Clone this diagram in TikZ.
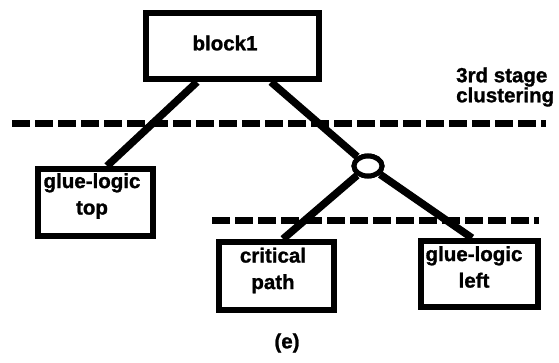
\documentclass[tikz,border=0pt]{standalone}
\usepackage{fontspec}
\setmainfont{Liberation Sans}[BoldFeatures={FakeBold=1.2}]
\usetikzlibrary{shapes.geometric}
\begin{document}
\begin{tikzpicture}[x=1pt,y=-1pt,
  box/.style={draw, line width=6pt, fill=white, rectangle, inner sep=0pt},
  junction/.style={draw, line width=5pt, fill=white, ellipse, inner sep=0pt,
    minimum width=28pt, minimum height=20pt},
  caption/.style={inner sep=0pt, align=center,
    font=\bfseries\fontsize{20.5}{26.5}\selectfont},
  link/.style={line width=7.5pt},
  cut/.style={line width=7pt, dash pattern=on 18pt off 5pt}]
\useasboundingbox (0,0) rectangle (559,362);

% clustering boundaries
\coordinate (upA) at (12,123);
\coordinate (upB) at (546,123);
\coordinate (loA) at (212,220);
\coordinate (loB) at (539,220);
\draw[cut] (upA) -- (upB);
\draw[cut] (loA) -- (loB);

% blocks
\node[box, minimum width=173pt, minimum height=66pt] (b1) at (232.5,46) {};
\node[box, minimum width=115pt, minimum height=67pt] (gt) at (95.5,202.5) {};
\node[box, minimum width=115pt, minimum height=68pt] (cp) at (276.5,276) {};
\node[box, minimum width=117pt, minimum height=66pt] (gl) at (479.5,274) {};
\node[junction] (j) at (368,166) {};

% tree edges
\draw[link] ([xshift=-35.5pt]b1.south) -- ([xshift=11.5pt]gt.north);
\draw[link] ([xshift=38.5pt]b1.south) -- (j);
\draw[link] (j) -- ([xshift=6.5pt]cp.north);
\draw[link] (j) -- ([xshift=-7.5pt]gl.north);

% redraw blocks over edge ends
\node[box, minimum width=173pt, minimum height=66pt] at (b1) {};
\node[box, minimum width=115pt, minimum height=67pt] at (gt) {};
\node[box, minimum width=115pt, minimum height=68pt] at (cp) {};
\node[box, minimum width=117pt, minimum height=66pt] at (gl) {};
\node[junction] at (j) {};

% labels
\node[caption] (b1t) at (225,43) {block1};
\node[caption] (gtt) at (92,196) {glue-logic\\top};
\node[caption] (cpt) at (273,270.5) {critical\\path};
\node[caption] (glt) at (474,267) {glue-logic\\left};
\node[caption, align=left, anchor=west,
  font=\bfseries\fontsize{20.5}{20}\selectfont] (stage) at (456,87) {3rd stage\\clustering};
\node[caption] (fig) at (287,343) {(e)};
\end{tikzpicture}
\end{document}
